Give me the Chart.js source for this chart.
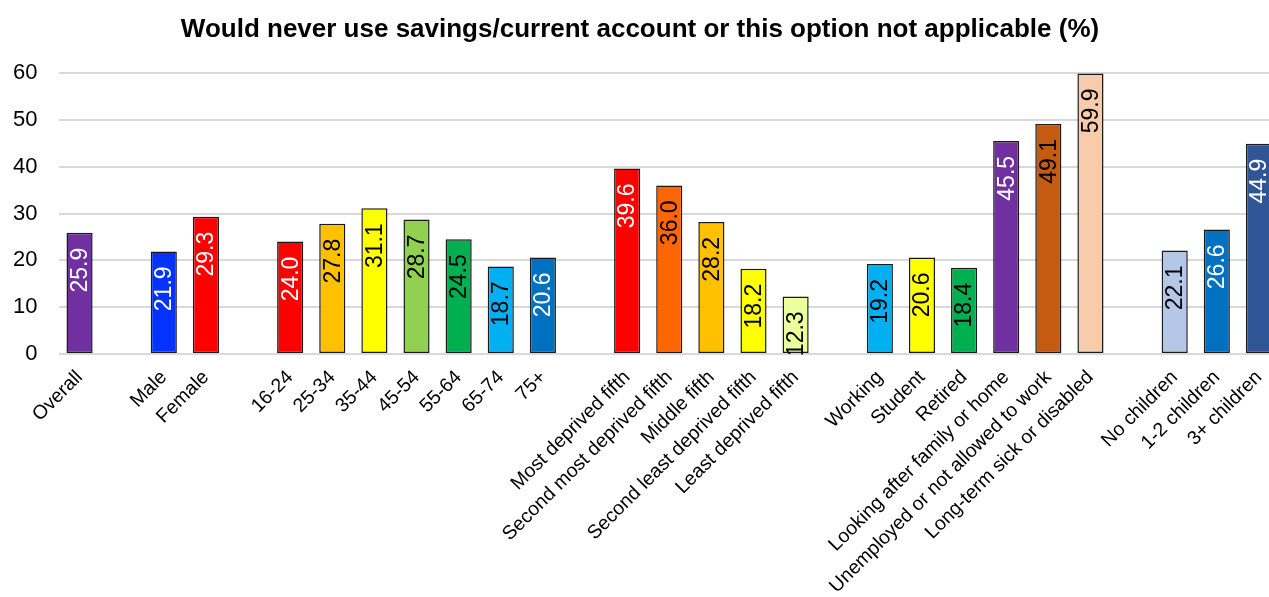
<!DOCTYPE html>
<html lang="en">
<head>
  <meta charset="UTF-8" />
  <title>Would never use savings/current account</title>
  <script src="https://cdn.jsdelivr.net/npm/chart.js"></script>
  <style>
    body {
      margin: 0;
      padding: 0;
      background: #fff;
      overflow: hidden;
    }

    .chart-box {
      position: relative;
      width: 1281px;
      height: 597px;
    }
  </style>
</head>
<body>
  <div class="chart-box">
    <canvas id="savingsChart"></canvas>
  </div>

  <script>
    // empty strings / nulls are the gaps between groups
    const categories = [
      'Overall', '',
      'Male', 'Female', '',
      '16-24', '25-34', '35-44', '45-54', '55-64', '65-74', '75+', '',
      'Most deprived fifth', 'Second most deprived fifth', 'Middle fifth', 'Second least deprived fifth', 'Least deprived fifth', '',
      'Working', 'Student', 'Retired', 'Looking after family or home', 'Unemployed or not allowed to work', 'Long-term sick or disabled', '',
      'No children', '1-2 children', '3+ children'
    ];

    const values = [
      25.9, null,
      21.9, 29.3, null,
      24.0, 27.8, 31.1, 28.7, 24.5, 18.7, 20.6, null,
      39.6, 36.0, 28.2, 18.2, 12.3, null,
      19.2, 20.6, 18.4, 45.5, 49.1, 59.9, null,
      22.1, 26.6, 44.9
    ];

    const barColors = [
      '#7030A0', null,
      '#0433FF', '#FF0000', null,
      '#FF0000', '#FFC000', '#FFFF00', '#92D050', '#00B050', '#00B0F0', '#0070C0', null,
      '#FF0000', '#FF6600', '#FFC000', '#FFFF00', '#EBFF9C', null,
      '#00B0F0', '#FFFF00', '#00B050', '#7030A0', '#C55A11', '#F8CBAD', null,
      '#B4C7E7', '#0070C0', '#2F5597'
    ];

    const labelColors = [
      '#fff', null,
      '#fff', '#fff', null,
      '#fff', '#000', '#000', '#000', '#000', '#000', '#fff', null,
      '#fff', '#000', '#000', '#000', '#000', null,
      '#000', '#000', '#000', '#fff', '#000', '#000', null,
      '#000', '#fff', '#fff'
    ];

    const yTicks = [0, 10, 20, 30, 40, 50, 60];

    const FONT = "'Liberation Sans', Arial, sans-serif";

    // value labels written vertically inside the top of each bar
    const barLabels = {
      id: 'barLabels',
      afterDatasetsDraw(chart) {
        const ctx = chart.ctx;
        const meta = chart.getDatasetMeta(0);
        ctx.save();
        ctx.font = '23px ' + FONT;
        ctx.textAlign = 'right';
        ctx.textBaseline = 'middle';
        meta.data.forEach((bar, i) => {
          if (values[i] === null) return;
          ctx.save();
          ctx.translate(bar.x, bar.y + 15);
          ctx.rotate(-Math.PI / 2);
          ctx.fillStyle = labelColors[i];
          ctx.fillText(values[i].toFixed(1), 0, 1);
          ctx.restore();
        });
        ctx.restore();
      }
    };

    new Chart(document.getElementById('savingsChart'), {
      type: 'bar',
      data: {
        labels: categories,
        datasets: [{
          data: values,
          backgroundColor: barColors,
          borderColor: '#1a1a1a',
          borderWidth: 1.5,
          borderSkipped: false,
          barPercentage: 0.62,
          categoryPercentage: 1.0
        }]
      },
      options: {
        responsive: true,
        maintainAspectRatio: false,
        animation: false,
        layout: { padding: { left: 0, right: 1, top: 0, bottom: 0 } },
        plugins: {
          legend: { display: false },
          tooltip: { enabled: false },
          title: {
            display: true,
            text: 'Would never use savings/current account or this option not applicable (%)',
            color: '#000',
            font: { family: FONT, size: 26, weight: 'bold' },
            padding: { top: 14, bottom: 27.8 }
          }
        },
        scales: {
          x: {
            grid: { display: false },
            border: { display: false },
            ticks: {
              autoSkip: false,
              maxRotation: 45,
              minRotation: 45,
              color: '#000',
              padding: 4,
              font: { family: FONT, size: 19.5 }
            },
            afterFit(scale) { scale.height = 243; }
          },
          y: {
            min: 0,
            max: 60,
            border: { display: false },
            grid: { color: '#D9D9D9', lineWidth: 2, drawTicks: false },
            afterBuildTicks(scale) {
              scale.ticks = yTicks.map(v => ({ value: v }));
            },
            ticks: {
              color: '#000',
              padding: 21,
              font: { family: FONT, size: 22 }
            },
            afterFit(scale) { scale.width = 58.5; }
          }
        }
      },
      plugins: [barLabels]
    });
  </script>
</body>
</html>
